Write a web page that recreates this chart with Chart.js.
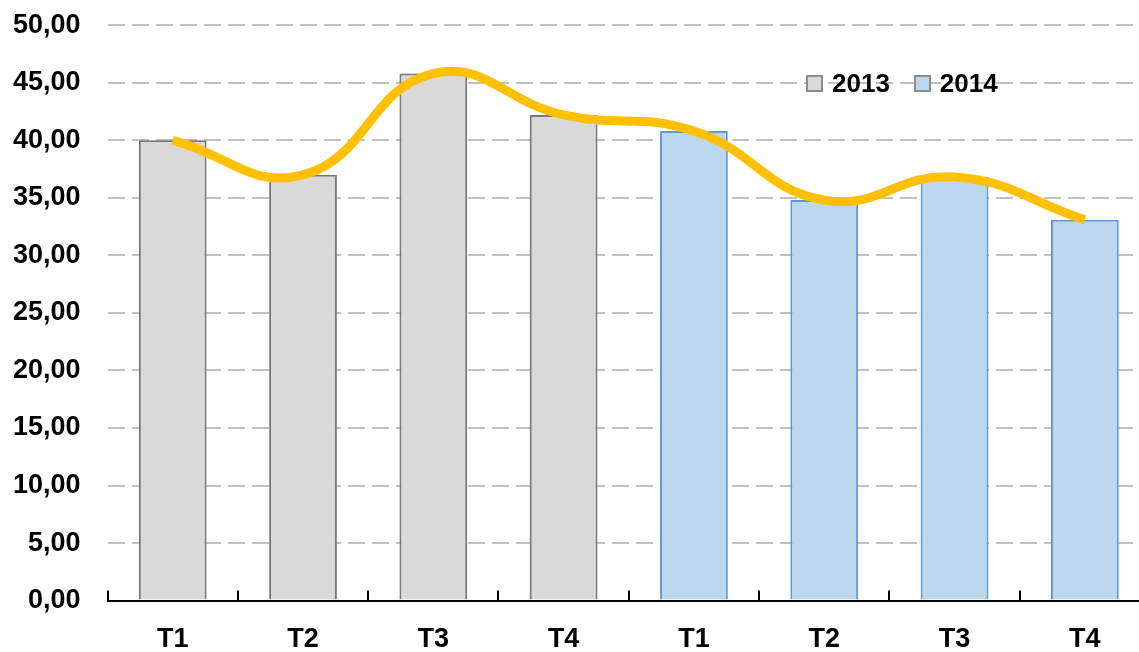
<!DOCTYPE html>
<html lang="es">
<head>
    <meta charset="UTF-8">
    <title>Trimestres 2013 - 2014</title>
    <style>
        html, body { margin: 0; padding: 0; background: #fff; overflow: hidden; }
        #wrap { position: relative; width: 1139px; height: 652px; overflow: hidden; }
        #chart { position: absolute; left: -26px; top: -18px; }
        .legend {
            position: absolute; top: 68px; left: 806px;
            font: bold 26px "Liberation Sans", Arial, sans-serif; color: #000;
            display: flex; align-items: center;
        }
        .legend span.box {
            display: inline-block; width: 13px; height: 13px; margin-right: 9px;
            border: 2px solid #8c8c8c;
        }
        .legend span.item { display: flex; align-items: center; margin-right: 24px; }
    </style>
</head>
<body>
    <div id="wrap">
        <canvas id="chart" width="1176" height="689"></canvas>
        <div class="legend">
            <span class="item"><span class="box" style="background:#d9d9d9"></span>2013</span>
            <span class="item"><span class="box" style="background:#bdd7ee"></span>2014</span>
        </div>
    </div>

    <script src="https://cdn.jsdelivr.net/npm/chart.js"></script>

    <script>
        // data
        const quarters = ['T1', 'T2', 'T3', 'T4', 'T1', 'T2', 'T3', 'T4'];
        const values2013 = [40.0, 37.0, 45.8, 42.2, null, null, null, null];
        const values2014 = [null, null, null, null, 40.8, 34.8, 36.8, 33.1];
        const trend = [40.0, 37.0, 45.8, 42.2, 40.8, 34.8, 36.8, 33.1];
        const yTicks = [0, 5, 10, 15, 20, 25, 30, 35, 40, 45, 50];

        const FONT = { family: '"Liberation Sans", Arial, sans-serif', size: 27, weight: 'bold' };

        // small tick marks pointing up from the x axis, between categories
        const upTicks = {
            id: 'upTicks',
            afterDatasetsDraw(chart) {
                const x = chart.scales.x;
                const c = chart.ctx;
                const base = x.top;
                c.save();
                c.strokeStyle = '#000';
                c.lineWidth = 2;
                for (let i = 0; i <= quarters.length; i++) {
                    const px = Math.round(x.getPixelForValue(i - 0.5));
                    c.beginPath();
                    c.moveTo(px, base);
                    c.lineTo(px, base - 10);
                    c.stroke();
                }
                c.restore();
            }
        };

        new Chart(document.getElementById('chart'), {
            data: {
                labels: quarters,
                datasets: [
                    {
                        type: 'line',
                        label: 'tendencia',
                        data: trend,
                        borderColor: '#ffc000',
                        borderWidth: 9,
                        pointRadius: 0,
                        tension: 0.45,
                        fill: false,
                        order: 0
                    },
                    {
                        type: 'bar',
                        label: '2013',
                        data: values2013,
                        backgroundColor: '#d9d9d9',
                        borderColor: '#767676',
                        borderWidth: 2,
                        order: 1
                    },
                    {
                        type: 'bar',
                        label: '2014',
                        data: values2014,
                        backgroundColor: '#bdd7ee',
                        borderColor: '#5b9bd5',
                        borderWidth: 2,
                        order: 1
                    }
                ]
            },
            options: {
                responsive: false,
                animation: false,
                layout: { padding: { top: 0, left: 12, right: 0, bottom: 0 } },
                datasets: {
                    bar: { grouped: false, barPercentage: 0.52, categoryPercentage: 1 }
                },
                plugins: {
                    legend: { display: false },
                    tooltip: { enabled: false }
                },
                scales: {
                    x: {
                        offset: true,
                        grid: { display: false },
                        border: { display: true, color: '#000', width: 2 },
                        ticks: { color: '#000', font: FONT, padding: 15 }
                    },
                    y: {
                        min: 0,
                        max: 50,
                        afterBuildTicks(scale) {
                            scale.ticks = yTicks.map(v => ({ value: v }));
                        },
                        border: { display: false, dash: [17, 7] },
                        grid: {
                            color: '#c0c0c0',
                            lineWidth: 2,
                            drawTicks: false
                        },
                        ticks: {
                            color: '#000',
                            font: FONT,
                            padding: 27,
                            callback: v => v.toFixed(2).replace('.', ',')
                        }
                    }
                }
            },
            plugins: [upTicks]
        });
    </script>
</body>
</html>
